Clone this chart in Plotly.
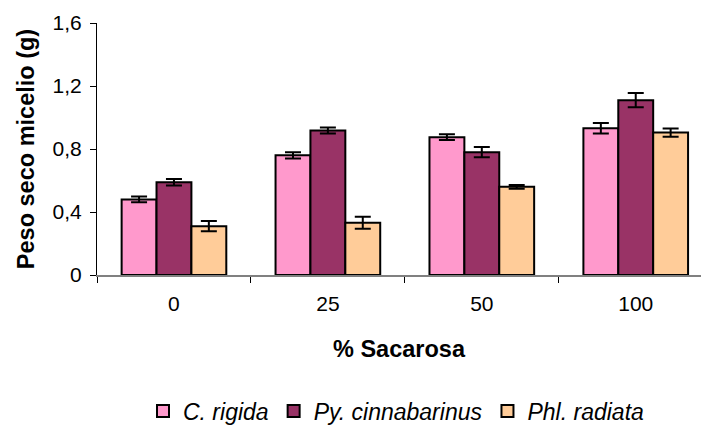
import plotly.graph_objects as go

categories = ["0", "25", "50", "100"]
series_names = ["C. rigida", "Py. cinnabarinus", "Phl. radiata"]
c_rigida = [0.48, 0.76, 0.875, 0.932]
c_rigida_err = [0.018, 0.02, 0.018, 0.033]
py_cinnabarinus = [0.589, 0.918, 0.78, 1.11]
py_cinnabarinus_err = [0.021, 0.019, 0.033, 0.045]
phl_radiata = [0.31, 0.332, 0.56, 0.904]
phl_radiata_err = [0.033, 0.038, 0.012, 0.026]
y_tickvals = [0, 0.4, 0.8, 1.2, 1.6]
y_ticktext = ["0", "0,4", "0,8", "1,2", "1,6"]

colors = ["#FF99CC", "#993366", "#FFCC99"]
values = [c_rigida, py_cinnabarinus, phl_radiata]
errors = [c_rigida_err, py_cinnabarinus_err, phl_radiata_err]

FONT = "Liberation Sans, Arial, sans-serif"

fig = go.Figure()
for name, vals, errs, col in zip(series_names, values, errors, colors):
    fig.add_trace(go.Bar(
        x=categories, y=vals, name=name,
        marker=dict(color=col, line=dict(color="black", width=2)),
        error_y=dict(type="data", array=errs, visible=True,
                     color="black", thickness=2, width=8),
    ))

fig.update_layout(
    width=701, height=427,
    margin=dict(l=97, r=0, t=23, b=152, autoexpand=False),
    paper_bgcolor="white", plot_bgcolor="white",
    barmode="group", bargap=0.32, bargroupgap=0,
    font=dict(family=FONT, color="black", size=21),
    showlegend=True,
    legend=dict(orientation="h", x=0.495, xanchor="center", y=-0.54, yanchor="middle",
                font=dict(family=FONT, size=23, style="italic", color="black"),
                traceorder="normal", itemwidth=30),
)

fig.update_xaxes(
    type="category", range=[-0.5, 3.424],
    showline=True, linecolor="#808080", linewidth=2,
    ticks="outside", tickson="boundaries", ticklen=6, tickcolor="black", tickwidth=1,
    tickfont=dict(size=21), ticklabelstandoff=9, showgrid=False, zeroline=False,
    title=dict(text="<b>% Sacarosa</b>", font=dict(size=23.5), standoff=26),
    automargin=False,
)
fig.update_yaxes(
    range=[0, 1.6], tickvals=y_tickvals, ticktext=y_ticktext,
    showline=True, linecolor="black", linewidth=1,
    ticks="outside", ticklen=6, tickcolor="black", tickwidth=1,
    tickfont=dict(size=21), ticklabelstandoff=4, showgrid=False, zeroline=False,
    title=dict(text="<b>Peso seco micelio (g)</b>", font=dict(size=23.5), standoff=11),
    automargin=False,
)

fig.write_html("out.html")
